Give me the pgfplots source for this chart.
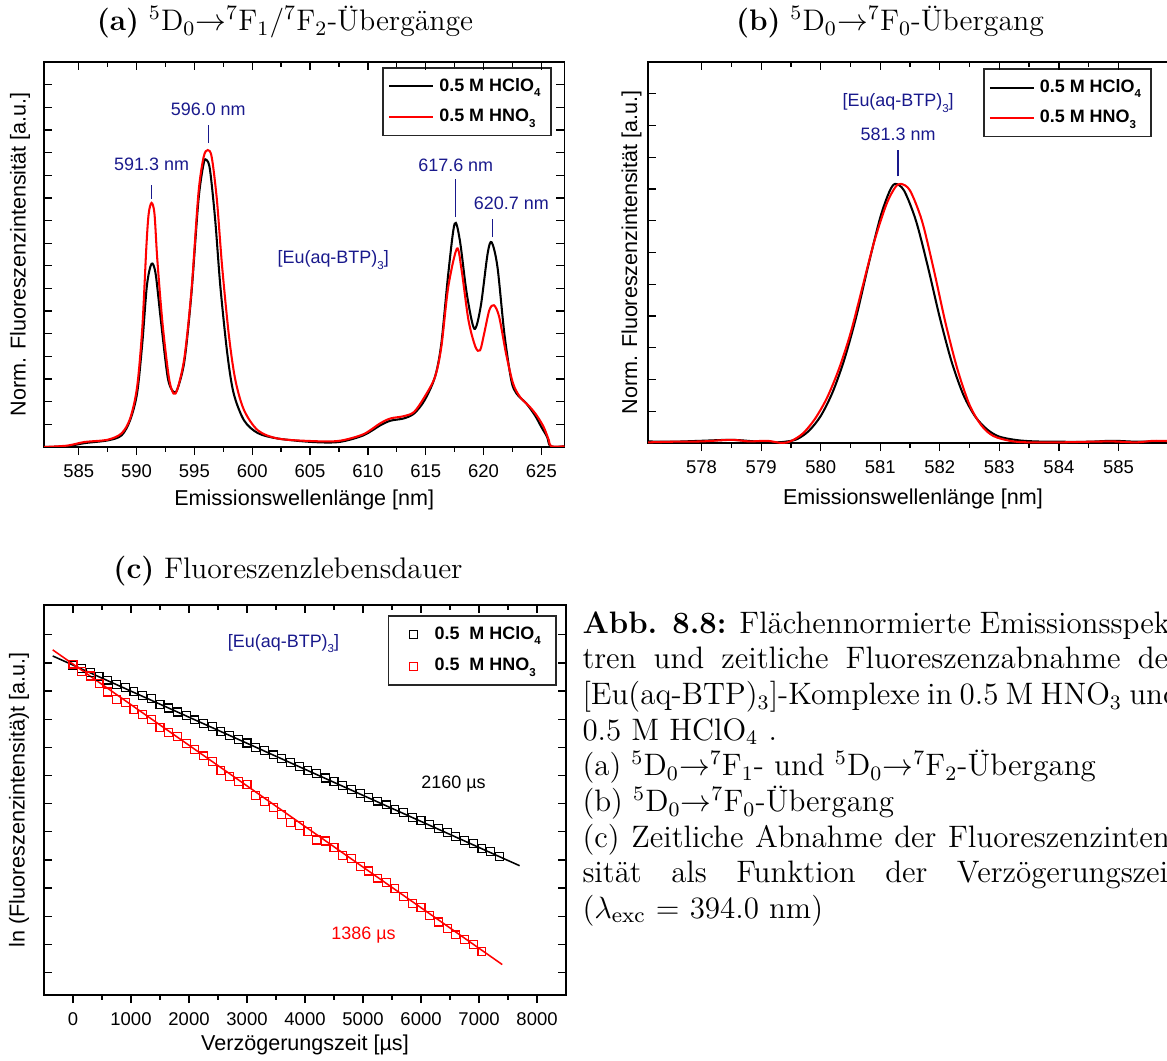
\documentclass[border=0pt]{standalone}
\usepackage{fontspec}
\setsansfont{Liberation Sans}
\usepackage{pgfplots}
\pgfplotsset{compat=1.18}
\definecolor{navy}{RGB}{25,25,140}
\newcommand{\lsub}[1]{\raisebox{-0.6ex}{\fontsize{4.5}{5}\selectfont #1}}
\newcommand{\annfont}{\sffamily\fontsize{7}{8}\selectfont}
\pgfplotsset{
 base/.style={scale only axis, axis line style={line width=0.6pt},
   every tick/.style={black,line width=0.5pt}, major tick length=3.2pt, minor tick length=1.9pt,
   tick align=outside, xtick pos=left, ytick=\empty,
   tick label style={font=\sffamily\fontsize{7.2}{8}\selectfont},
   label style={font=\sffamily\fontsize{8.4}{10}\selectfont},
   /pgf/number format/assume math mode=true, /pgf/number format/1000 sep={},
   legend cell align=left},
 ghost/.style={scale only axis, axis line style={draw=none}, tick align=inside,
   xticklabels={}, yticklabels={}, every tick/.style={black,line width=0.5pt},
   major tick length=3.2pt, minor tick length=1.9pt, xtick pos=right, ytick pos=both},
 leg/.style={legend style={draw=black!85, line width=0.6pt, fill=white,
   font=\sffamily\bfseries\fontsize{7}{8.5}\selectfont, inner xsep=2pt, inner ysep=2pt, row sep=1.5pt}},
}
\begin{document}
\begin{tikzpicture}[x=0.39pt,y=0.39pt]
% titles
\node[font=\fontsize{11.6}{13}\selectfont] at (285,1039) {\textbf{(a)} $^5$D$_0$$\rightarrow$$^7$F$_1$/$^7$F$_2$-Übergänge};
\node[font=\fontsize{11.6}{13}\selectfont] at (890,1039) {\textbf{(b)} $^5$D$_0$$\rightarrow$$^7$F$_0$-Übergang};
\node[font=\fontsize{11.6}{13}\selectfont] at (288,490) {\textbf{(c)} Fluoreszenzlebensdauer};

% ---------------- panel (a)
\begin{axis}[base, leg, at={(17.16pt,389.61pt)}, anchor=north west, width=203pt, height=150.15pt,
  xmin=582, xmax=627, ymin=0, ymax=17, xtick={585,590,...,625}, minor x tick num=1,
  xlabel={Emissionswellenlänge [nm]}, ylabel={Norm. Fluoreszenzintensität [a.u.]},
  xlabel style={at={(axis description cs:0.5,-0.138)},anchor=center},
  ylabel style={at={(axis description cs:-0.046,0.5)},anchor=center},
  legend style={at={(0.975,0.987)},anchor=north east}]
\addplot[black, line width=0.8pt, smooth, tension=0.5] coordinates {
(582.0,0) (584.0,0.034) (585.5,0.17) (587.5,0.29) (588.7,0.51) (589.45,1.19) (590.05,2.38)
(590.5,4.59) (590.9,7.14) (591.3,8.09) (591.65,7.65) (592.1,5.61) (592.7,3.06) (593.2,2.43)
(593.55,2.58) (594.15,3.83) (594.75,6.8) (595.35,10.88) (595.8,12.51) (596.05,12.68)
(596.35,12.24) (596.8,10.03) (597.25,7.07) (597.85,4.11) (598.4,2.36) (599.3,1.17)
(600.5,0.61) (602.25,0.37) (605.2,0.22) (607.5,0.22) (609.6,0.51) (611.05,0.95) (611.95,1.16)
(613.1,1.26) (614.0,1.48) (614.9,2.06) (615.8,3.09) (616.35,4.56) (616.95,7.65) (617.5,9.86)
(617.95,9.13) (618.55,6.77) (619.2,5.22) (619.75,6.19) (620.35,8.53) (620.7,9.04) (621.2,7.96)
(621.8,5.0) (622.4,2.94) (622.85,2.36) (623.7,1.92) (624.45,1.39) (625.0,0.88) (625.5,0.44)
(625.8,0.03) (627.0,0.03)};
\addlegendentry{0.5 M HClO\lsub{4}}
\addplot[red, line width=0.8pt, smooth, tension=0.5] coordinates {
(582.0,0) (584.0,0.06) (585.5,0.22) (587.5,0.32) (588.7,0.6) (589.45,1.26) (590.05,2.65)
(590.5,5.27) (590.85,8.84) (591.05,10.3) (591.3,10.78) (591.55,10.3) (591.8,8.25) (592.25,5.44)
(592.8,3.06) (593.2,2.36) (593.55,2.58) (594.15,3.98) (594.75,6.92) (595.35,11.19) (595.8,12.8)
(596.15,13.11) (596.5,12.8) (596.95,10.9) (597.4,7.96) (598.0,4.86) (598.55,2.94) (599.3,1.62)
(600.5,0.73) (602.25,0.37) (605.2,0.26) (607.5,0.27) (609.6,0.56) (611.05,1.04) (611.95,1.26)
(613.1,1.36) (614.0,1.55) (614.9,2.21) (615.8,3.09) (616.35,4.42) (616.95,7.07) (617.7,8.76)
(618.1,7.82) (618.7,5.59) (619.3,4.42) (619.7,4.27) (620.05,5.0) (620.5,6.04) (620.9,6.26)
(621.35,5.75) (621.95,4.11) (622.55,2.81) (623.15,2.21) (624.0,1.77) (624.6,1.39) (625.2,0.88)
(625.65,0.29) (625.85,0.03) (627.0,0.03)};
\addlegendentry{0.5 M HNO\lsub{3}}
\draw[navy, line width=0.5pt] (axis cs:591.3,10.97) -- (axis cs:591.3,11.55);
\node[navy, font=\annfont] at (axis cs:591.3,12.48) {591.3 nm};
\draw[navy, line width=0.5pt] (axis cs:596.2,13.42) -- (axis cs:596.2,14.2);
\node[navy, font=\annfont] at (axis cs:596.2,14.9) {596.0 nm};
\draw[navy, line width=0.5pt] (axis cs:617.6,10.15) -- (axis cs:617.6,11.85);
\node[navy, font=\annfont] at (axis cs:617.6,12.44) {617.6 nm};
\draw[navy, line width=0.5pt] (axis cs:620.8,9.27) -- (axis cs:620.8,10.08);
\node[navy, font=\annfont] at (axis cs:622.4,10.74) {620.7 nm};
\node[navy, font=\annfont] at (axis cs:607.0,8.24) {[Eu(aq-BTP)\lsub{3}]};
\end{axis}
\begin{axis}[ghost, at={(17.16pt,389.61pt)}, anchor=north west, width=203pt, height=150.15pt,
  xmin=582, xmax=627, ymin=0, ymax=17, xtick={585,590,...,625}, minor x tick num=1,
  ytick={1,2,...,16}]
\end{axis}

% ---------------- panel (b)
\begin{axis}[base, leg, at={(252.72pt,389.61pt)}, anchor=north west, width=206.7pt, height=148.6pt,
  xmin=577.1, xmax=586.0, ymin=0, ymax=12, xtick={578,579,...,585}, minor x tick num=1,
  xlabel={Emissionswellenlänge [nm]}, ylabel={Norm. Fluoreszenzintensität [a.u.]},
  xlabel style={at={(axis description cs:0.5,-0.148)},anchor=center},
  ylabel style={at={(axis description cs:-0.031,0.5)},anchor=center},
  legend style={at={(0.951,0.984)},anchor=north east}]
\addplot[black, line width=0.8pt, smooth, tension=0.5] coordinates {
(577.1,0.05) (577.5,0.04) (578.0,0.07) (578.5,0.1) (578.9,0.05) (579.2,0.02) (579.4,0.04)
(579.6,0.12) (579.8,0.38) (580.0,0.85) (580.2,1.6) (580.4,2.65) (580.6,4.0) (580.8,5.6)
(581.0,7.1) (581.15,7.9) (581.25,8.16) (581.4,7.95) (581.6,7.0) (581.8,5.55) (582.0,3.95)
(582.2,2.55) (582.4,1.5) (582.6,0.82) (582.8,0.42) (583.0,0.2) (583.3,0.09) (583.6,0.05)
(584.0,0.04) (584.5,0.04) (584.9,0.07) (585.3,0.04) (585.6,0.05) (586,0.05)};
\addlegendentry{0.5 M HClO\lsub{4}}
\addplot[red, line width=0.8pt, smooth, tension=0.5] coordinates {
(577.1,0.02) (577.5,0.04) (578.0,0.05) (578.5,0.1) (578.8,0.05) (579.1,0.07) (579.35,0.0)
(579.5,0.06) (579.7,0.3) (579.9,0.75) (580.1,1.4) (580.3,2.3) (580.5,3.45) (580.7,4.9)
(580.9,6.35) (581.1,7.5) (581.25,8.05) (581.35,8.16) (581.5,7.95) (581.7,7.0) (581.9,5.45)
(582.1,3.75) (582.3,2.3) (582.5,1.2) (582.7,0.55) (582.9,0.22) (583.2,0.06) (583.5,0.02)
(584.0,0.02) (584.5,0.04) (584.9,0.05) (585.3,0.02) (585.6,0.07) (586,0.05)};
\addlegendentry{0.5 M HNO\lsub{3}}
\draw[navy, line width=0.5pt] (axis cs:581.3,8.4) -- (axis cs:581.3,9.23);
\node[navy, font=\annfont] at (axis cs:581.3,9.73) {581.3 nm};
\node[navy, font=\annfont] at (axis cs:581.3,10.7) {[Eu(aq-BTP)\lsub{3}]};
\end{axis}
\begin{axis}[ghost, at={(252.72pt,389.61pt)}, anchor=north west, width=206.7pt, height=148.6pt,
  xmin=577.1, xmax=586.0, ymin=0, ymax=12, xtick={578,579,...,585}, minor x tick num=1,
  ytick={1,2,...,11}]
\end{axis}

% ---------------- panel (c)
\begin{axis}[base, at={(17.16pt,177.84pt)}, anchor=north west, width=203.6pt, height=152.1pt,
  xmin=-500, xmax=8500, ymin=-5.88, ymax=1.05, xtick={0,1000,...,8000}, minor x tick num=1,
  xlabel={Verzögerungszeit [µs]}, ylabel={ln (Fluoreszenzintensitä)t [a.u.]},
  xlabel style={at={(axis description cs:0.5,-0.128)},anchor=center},
  ylabel style={at={(axis description cs:-0.048,0.5)},anchor=center},
  legend image code/.code={\path[draw=none] (0cm,-0.5pt) rectangle (0.42cm,0.5pt);
     \path[#1, only marks] plot coordinates {(0.2cm,0cm)};},
  legend style={at={(0.979,0.974)},anchor=north east, xshift=0.7pt, draw=black!85, line width=0.6pt,
   font=\sffamily\bfseries\fontsize{7}{8.5}\selectfont, inner xsep=4pt, inner ysep=2pt, row sep=2pt}]
\addplot[only marks, mark=square, mark size=1.55pt, black, mark options={line width=0.45pt}] coordinates {
(0,-0.018) (150,-0.079) (300,-0.145) (450,-0.218) (600,-0.284) (750,-0.357) (900,-0.423)
(1050,-0.490) (1200,-0.556) (1350,-0.617) (1500,-0.712) (1650,-0.780) (1800,-0.852)
(1950,-0.919) (2100,-0.992) (2250,-1.052) (2400,-1.115) (2550,-1.197) (2700,-1.264)
(2850,-1.336) (3000,-1.403) (3150,-1.481) (3300,-1.542) (3450,-1.614) (3600,-1.681)
(3750,-1.745) (3900,-1.820) (4050,-1.884) (4200,-1.948) (4350,-2.025) (4500,-2.092)
(4650,-2.158) (4800,-2.225) (4950,-2.297) (5100,-2.370) (5250,-2.434) (5400,-2.503)
(5550,-2.582) (5700,-2.642) (5850,-2.721) (6000,-2.781) (6150,-2.854) (6300,-2.924)
(6450,-2.999) (6600,-3.065) (6750,-3.132) (6900,-3.192) (7050,-3.277) (7200,-3.337) (7350,-3.416)};
\addlegendentry{0.5\ \ M HClO\lsub{4}}
\addplot[only marks, mark=square, mark size=1.55pt, red, mark options={line width=0.45pt}] coordinates {
(0,0.0) (150,-0.133) (300,-0.212) (450,-0.351) (600,-0.496) (750,-0.635) (900,-0.683)
(1050,-0.804) (1200,-0.901) (1350,-0.979) (1500,-1.125) (1650,-1.221) (1800,-1.282)
(1950,-1.409) (2100,-1.518) (2250,-1.632) (2400,-1.729) (2550,-1.886) (2700,-1.995)
(2850,-2.086) (3000,-2.146) (3150,-2.340) (3300,-2.437) (3450,-2.545) (3600,-2.672)
(3750,-2.811) (3900,-2.872) (4050,-2.975) (4200,-3.126) (4350,-3.144) (4500,-3.253)
(4650,-3.404) (4800,-3.458) (4950,-3.597) (5100,-3.676) (5250,-3.803) (5400,-3.882)
(5550,-3.990) (5700,-4.123) (5850,-4.256) (6000,-4.329) (6150,-4.474) (6300,-4.583)
(6450,-4.698) (6600,-4.813) (6750,-4.897) (6900,-4.988) (7050,-5.109)};
\addlegendentry{0.5\ \ M HNO\lsub{3}}
\addplot[black, line width=0.6pt, forget plot] coordinates {(-350,0.144) (7700,-3.583)};
\addplot[red, line width=0.6pt, forget plot] coordinates {(-350,0.2525) (7400,-5.339)};
\node[navy, font=\annfont] at (axis cs:3630,0.363) {[Eu(aq-BTP)\lsub{3}]};
\node[black, font=\annfont] at (axis cs:6560,-2.128) {2160 µs};
\node[red, font=\annfont] at (axis cs:5010,-4.81) {1386 µs};
\end{axis}
\begin{axis}[ghost, at={(17.16pt,177.84pt)}, anchor=north west, width=203.6pt, height=152.1pt,
  xmin=-500, xmax=8500, ymin=-5.88, ymax=1.05, xtick={0,1000,...,8000}, minor x tick num=1,
  ytick={-5.48,-4.98,...,0.6}]
\end{axis}

% caption
\node[anchor=north west, align=left, inner sep=0pt, font=\fontsize{12.1}{13.9}\selectfont] at (582,450) {%
\makebox[233pt][s]{\textbf{Abb. 8.8:} Flächennormierte Emissionsspek-}\\
\makebox[233pt][s]{tren und zeitliche Fluoreszenzabnahme der}\\
\makebox[233pt][s]{[Eu(aq-BTP)$_3$]-Komplexe in 0.5 M HNO$_3$ und}\\
0.5 M HClO$_4$ .\\
(a) $^5$D$_0$$\rightarrow$$^7$F$_1$- und $^5$D$_0$$\rightarrow$$^7$F$_2$-Übergang\\
(b) $^5$D$_0$$\rightarrow$$^7$F$_0$-Übergang\\
\makebox[233pt][s]{(c) Zeitliche Abnahme der Fluoreszenzinten-}\\
\makebox[233pt][s]{sität als Funktion der Verzögerungszeit}\\
($\lambda_{\mathrm{exc}}$ = 394.0 nm)};
\pgfresetboundingbox
\path[use as bounding box] (0,0) rectangle (1167,1061);
\end{tikzpicture}
\end{document}
